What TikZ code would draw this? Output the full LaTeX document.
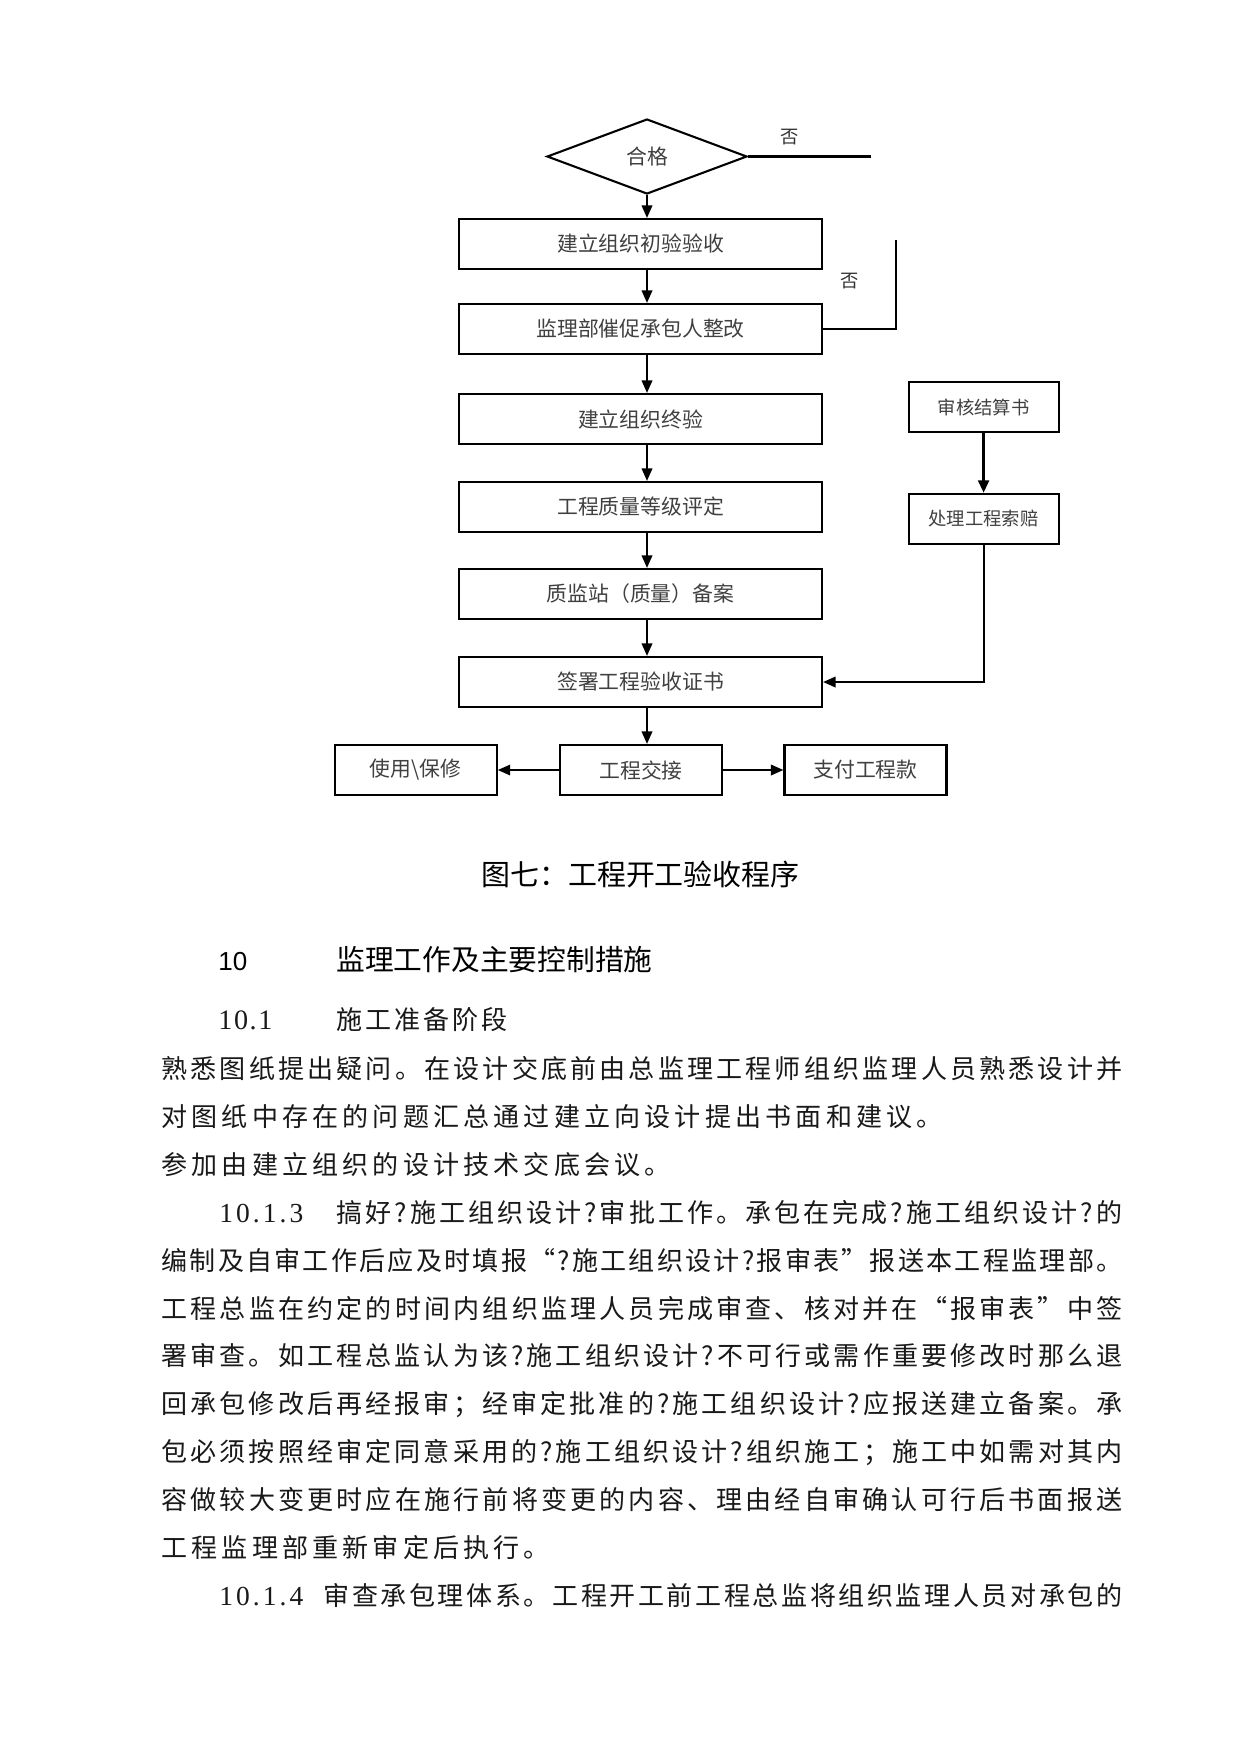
\documentclass[tikz,border=0pt]{standalone}
\usepackage{fontspec}
\setmainfont{Noto Sans CJK SC}
\newfontfamily\digserif{Liberation Serif}
\newfontfamily\digsans{Liberation Sans}
\usetikzlibrary{shapes.geometric,arrows.meta}
\newdimen\pxl \pxl=0.48pt
\newdimen\chsp \chsp=2pt
\def\sprdend{}
\def\sprd#1{\sprdA#1\sprdend}
\def\sprdA#1{#1\sprdB}
\def\sprdB#1{\ifx#1\sprdend\else\hskip\chsp plus 1fil minus 2pt\relax#1\expandafter\sprdB\fi}
\tikzset{
  box/.style={draw, line width=1pt, inner sep=0pt, minimum width=174.24pt, minimum height=24pt,
    font=\fontsize{10}{12}\selectfont, text=black!75},
  sbox/.style={box, minimum width=77.76pt},
  rbox/.style={box, minimum width=72pt, font=\fontsize{8.8}{10}\selectfont},
  dia/.style={draw, line width=1pt, diamond, inner sep=0pt, minimum width=96pt, minimum height=36pt,
    font=\fontsize{10}{12}\selectfont, text=black!75},
  lab/.style={inner sep=0pt, font=\fontsize{8.8}{10}\selectfont, text=black!80},
  arr/.style={line width=1pt, -{Triangle[length=6pt,width=5pt]}},
  ln/.style={line width=1pt},
  body/.style={anchor=west, inner sep=0pt, font=\fontsize{12.5}{15}\selectfont, text height=11pt, text depth=1.5pt, text=black!90},
  num/.style={anchor=west, inner sep=0pt, font=\digserif\fontsize{13.2}{15}\selectfont, text height=11pt, text depth=1.5pt, text=black!90},
}
\begin{document}
\begin{tikzpicture}[x=0.48pt, y=-0.48pt]
\fill[white] (0,0) rectangle (1241,1755);
\useasboundingbox (0,0) rectangle (1241,1755);

% flowchart
\node[dia] (d) at (647,156.5) {合格};
\node[box] (b1) at (640.5,244) {建立组织初验验收};
\node[box] (b2) at (640.5,329) {监理部催促承包人整改};
\node[box] (b3) at (640.5,419) {建立组织终验};
\node[box] (b4) at (640.5,507) {工程质量等级评定};
\node[box] (b5) at (640.5,594) {质监站（质量）备案};
\node[box] (b6) at (640.5,682) {签署工程验收证书};
\node[sbox] (b7) at (641,770) {工程交接};
\node[sbox] (b8) at (415.7,770) {使用\textbackslash 保修};
\node[sbox] (b9) at (865.5,770) {支付工程款};
\node[rbox] (ra) at (983.6,407) {审核结算书};
\node[rbox] (rb) at (983.6,519) {处理工程索赔};

\node[lab] (no1) at (790,137) {否};
\node[lab] (no2) at (850,281) {否};

\coordinate (f1) at (871,156.5);
\coordinate (f2) at (896,240);

\draw[arr] (d.south) -- (d.south |- b1.north);
\draw[arr] (b1.south -| d.south) -- (d.south |- b2.north);
\draw[arr] (b2.south -| d.south) -- (d.south |- b3.north);
\draw[arr] (b3.south -| d.south) -- (d.south |- b4.north);
\draw[arr] (b4.south -| d.south) -- (d.south |- b5.north);
\draw[arr] (b5.south -| d.south) -- (d.south |- b6.north);
\draw[arr] (b6.south -| d.south) -- (d.south |- b7.north);
\draw[arr] (b7.west) -- (b8.east);
\draw[arr] (b7.east) -- (b9.west);
\draw[ln] (d.east) -- (f1);
\draw[ln] (b2.east) -| (f2);
\draw[arr, line width=1.5pt] (ra.south) -- (rb.north);
\draw[arr] (rb.south) |- (b6.east);

% caption
\node[inner sep=0pt, font=\fontsize{13.9}{16}\selectfont] (cap) at (640.5,874) {图七：工程开工验收程序};

% headings
\node[anchor=base west, inner sep=0pt, font=\digsans\fontsize{12.5}{14}\selectfont] (h1n) at (218,970.5) {10};
\node[anchor=west, inner sep=0pt, font=\fontsize{13.8}{16}\selectfont, text height=12.1pt, text depth=1.7pt] (h1t) at (336,959.5) {监理工作及主要控制措施};
\node[num, font=\digserif\fontsize{13.5}{15}\selectfont] (h2n) at (218,1020) {\hbox to 54\pxl{\sprd{10.1}}};
\node[body] (h2t) at (336,1020) {\chsp=1.4pt\sprd{施工准备阶段}};

% body
\node[body] (l1) at (161,1068.6) {\hbox to 961\pxl{\sprd{熟悉图纸提出疑问。在设计交底前由总监理工程师组织监理人员熟悉设计并}}};
\node[body] (l2) at (161,1116.5) {\sprd{对图纸中存在的问题汇总通过建立向设计提出书面和建议。}};
\node[body] (l3) at (161,1164.4) {\sprd{参加由建立组织的设计技术交底会议。}};
\node[num] (l4n) at (219,1212.3) {\hbox to 84\pxl{\sprd{10.1.3}}};
\node[body] (l4) at (336,1212.3) {\hbox to 786\pxl{\sprd{搞好?施工组织设计?审批工作。承包在完成?施工组织设计?的}}};
\node[body] (l5) at (161,1260.2) {\hbox to 961\pxl{\sprd{编制及自审工作后应及时填报“?施工组织设计?报审表”报送本工程监理部。}}};
\node[body] (l6) at (161,1308.1) {\hbox to 961\pxl{\sprd{工程总监在约定的时间内组织监理人员完成审查、核对并在“报审表”中签}}};
\node[body] (l7) at (161,1356) {\hbox to 961\pxl{\sprd{署审查。如工程总监认为该?施工组织设计?不可行或需作重要修改时那么退}}};
\node[body] (l8) at (161,1403.9) {\hbox to 961\pxl{\sprd{回承包修改后再经报审；经审定批准的?施工组织设计?应报送建立备案。承}}};
\node[body] (l9) at (161,1451.8) {\hbox to 961\pxl{\sprd{包必须按照经审定同意采用的?施工组织设计?组织施工；施工中如需对其内}}};
\node[body] (l10) at (161,1499.7) {\hbox to 961\pxl{\sprd{容做较大变更时应在施行前将变更的内容、理由经自审确认可行后书面报送}}};
\node[body] (l11) at (161,1547.6) {\sprd{工程监理部重新审定后执行。}};
\node[num] (l12n) at (219,1595.5) {\hbox to 84\pxl{\sprd{10.1.4}}};
\node[body] (l12) at (323,1595.5) {\hbox to 799\pxl{\sprd{审查承包理体系。工程开工前工程总监将组织监理人员对承包的}}};
\end{tikzpicture}
\end{document}
